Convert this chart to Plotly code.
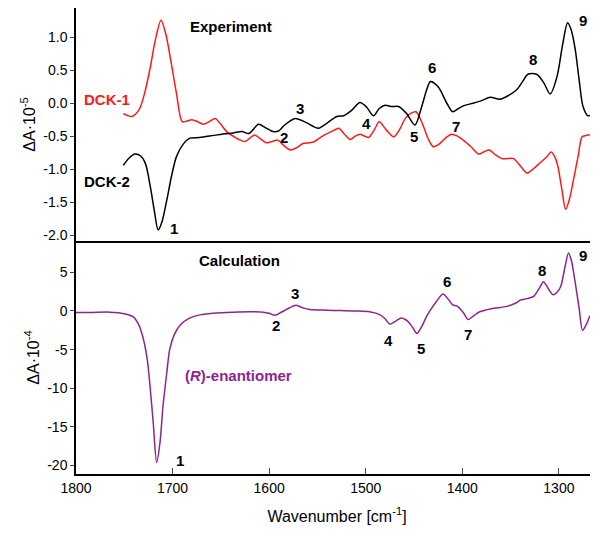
import plotly.graph_objects as go
from plotly.subplots import make_subplots

# ---- data ----
dck2_x = [1751,1745,1739,1733,1728,1723,1719,1715,1711,1706,1701,1696,1689,1682,1672,1654,1637,1628,1621,1611,1604,1596,1590,1584,1573,1562,1549,1540,1530,1523,1514,1506,1499,1492,1486,1480,1473,1466,1458,1449,1442,1437,1433,1425,1416,1410,1404,1399,1389,1380,1371,1361,1352,1344,1338,1332,1323,1316,1309,1302,1296,1291,1287,1283,1279,1275,1270,1265,1260]
dck2_y = [-0.94,-0.83,-0.77,-0.80,-0.92,-1.27,-1.62,-1.92,-1.80,-1.47,-1.10,-0.81,-0.62,-0.53,-0.52,-0.48,-0.45,-0.43,-0.46,-0.32,-0.37,-0.43,-0.42,-0.33,-0.23,-0.29,-0.38,-0.30,-0.20,-0.19,-0.10,0.01,-0.06,-0.19,-0.08,-0.03,-0.05,-0.05,-0.15,-0.33,-0.05,0.20,0.33,0.25,0.00,-0.13,-0.08,-0.04,0.00,0.04,0.09,0.06,0.12,0.20,0.32,0.44,0.44,0.32,0.14,0.40,0.90,1.22,1.10,0.81,0.35,-0.05,-0.19,-0.17,-0.13]

dck1_x = [1751,1746,1742,1738,1734,1729,1723,1718,1712,1707,1702,1696,1690,1685,1680,1674,1668,1662,1656,1650,1644,1635,1625,1620,1615,1609,1603,1597,1591,1585,1578,1571,1565,1558,1553,1546,1540,1534,1528,1522,1516,1511,1506,1501,1497,1491,1486,1479,1471,1465,1459,1453,1448,1444,1440,1435,1430,1425,1421,1416,1411,1405,1399,1391,1383,1378,1372,1366,1359,1353,1347,1340,1333,1326,1320,1313,1308,1304,1301,1297,1293,1289,1285,1280,1276,1272,1268,1264,1260]
dck1_y = [-0.16,-0.19,-0.20,-0.16,-0.08,0.15,0.55,0.95,1.26,1.05,0.66,0.15,-0.28,-0.27,-0.25,-0.28,-0.32,-0.28,-0.23,-0.32,-0.43,-0.52,-0.58,-0.53,-0.48,-0.54,-0.60,-0.58,-0.56,-0.64,-0.71,-0.67,-0.61,-0.60,-0.58,-0.51,-0.46,-0.42,-0.38,-0.47,-0.55,-0.50,-0.47,-0.50,-0.52,-0.40,-0.28,-0.40,-0.51,-0.40,-0.23,-0.15,-0.13,-0.22,-0.36,-0.55,-0.66,-0.63,-0.58,-0.51,-0.47,-0.50,-0.56,-0.66,-0.77,-0.74,-0.71,-0.78,-0.84,-0.84,-0.84,-0.95,-1.06,-0.99,-0.91,-0.82,-0.74,-0.82,-0.96,-1.30,-1.61,-1.45,-1.17,-0.80,-0.51,-0.49,-0.48,-0.47,-0.46]

calc_x = [1800,1785,1765,1750,1741,1735,1730,1726,1723,1720,1716.5,1713,1710,1706,1703,1698,1692,1682,1672,1655,1637,1620,1606,1600,1594,1588,1582,1576,1572,1565,1558,1540,1527,1510,1496,1485,1480,1475,1469,1463,1459,1456,1451,1447,1442,1437,1432,1427,1420,1415,1410,1405,1399,1394,1388,1382,1370,1354,1345,1340,1333,1326,1320,1316,1312,1306,1302,1298,1294,1290,1287,1283,1279,1275.5,1271,1268,1264,1260]
calc_y = [-0.2,-0.2,-0.15,-0.35,-0.74,-1.8,-3.75,-6.5,-10.2,-14.5,-19.6,-17.0,-12.4,-8.0,-5.0,-3.0,-1.8,-0.9,-0.5,-0.25,-0.15,-0.1,-0.15,-0.3,-0.55,-0.2,0.2,0.6,0.75,0.4,0.2,0.1,0.05,0.0,-0.1,-0.5,-1.0,-1.7,-1.3,-0.9,-1.1,-1.4,-2.2,-2.9,-2.0,-0.7,0.3,1.2,2.2,1.6,0.8,0.6,-0.2,-1.1,-0.6,-0.1,0.3,0.6,1.0,1.4,1.6,1.9,3.0,3.8,3.1,2.1,2.4,3.2,5.5,7.5,6.5,3.6,0.3,-2.5,-1.6,-0.7,-0.3,-0.1]

top_ticks = [1.0, 0.5, 0.0, -0.5, -1.0, -1.5, -2.0]
top_ticktext = ["1.0", "0.5", "0.0", "-0.5", "-1.0", "-1.5", "-2.0"]
bot_ticks = [5, 0, -5, -10, -15, -20]
bot_ticktext = ["5", "0", "-5", "-10", "-15", "-20"]
x_ticks = [1800, 1700, 1600, 1500, 1400, 1300]

exp_labels = ["1", "2", "3", "4", "5", "6", "7", "8", "9"]
exp_lx = [1699, 1585, 1568, 1499, 1450, 1431, 1407, 1327, 1275.5]
exp_ly = [-1.90, -0.52, -0.08, -0.30, -0.51, 0.54, -0.35, 0.67, 1.26]
calc_lx = [1692, 1593, 1573, 1476, 1443, 1416, 1394, 1317, 1275]
calc_ly = [-19.3, -1.9, 2.3, -3.8, -4.8, 3.8, -3.0, 5.3, 7.2]

RED = "#ff1a1a"
PURPLE = "#8b268f"
FONT = "Liberation Sans, Arial, sans-serif"

fig = make_subplots(rows=2, cols=1, shared_xaxes=True, vertical_spacing=0)
fig.add_trace(go.Scatter(x=dck1_x, y=dck1_y, mode="lines", line=dict(color=RED, width=1.5, shape="spline", smoothing=0.8), showlegend=False), row=1, col=1)
fig.add_trace(go.Scatter(x=dck2_x, y=dck2_y, mode="lines", line=dict(color="black", width=1.5, shape="spline", smoothing=0.8), showlegend=False), row=1, col=1)
fig.add_trace(go.Scatter(x=calc_x, y=calc_y, mode="lines", line=dict(color=PURPLE, width=1.5, shape="spline", smoothing=0.8), showlegend=False), row=2, col=1)

ann = []
for t, x, y in zip(exp_labels, exp_lx, exp_ly):
    ann.append(dict(x=x, y=y, xref="x", yref="y", text="<b>%s</b>" % t, showarrow=False, font=dict(size=15, color="black")))
for t, x, y in zip(exp_labels, calc_lx, calc_ly):
    ann.append(dict(x=x, y=y, xref="x2", yref="y2", text="<b>%s</b>" % t, showarrow=False, font=dict(size=15, color="black")))
ann.append(dict(x=1639, y=1.16, xref="x", yref="y", text="<b>Experiment</b>", showarrow=False, font=dict(size=15, color="black")))
ann.append(dict(x=1768, y=0.05, xref="x", yref="y", text="<b>DCK-1</b>", showarrow=False, font=dict(size=15, color=RED)))
ann.append(dict(x=1768, y=-1.19, xref="x", yref="y", text="<b>DCK-2</b>", showarrow=False, font=dict(size=15, color="black")))
ann.append(dict(x=1631, y=6.5, xref="x2", yref="y2", text="<b>Calculation</b>", showarrow=False, font=dict(size=15, color="black")))
ann.append(dict(x=1632, y=-8.4, xref="x2", yref="y2", text="<b>(<i>R</i>)-enantiomer</b>", showarrow=False, font=dict(size=15, color=PURPLE)))

fig.update_layout(
    width=590, height=517,
    margin=dict(l=68, r=0, t=0, b=51, autoexpand=False),
    paper_bgcolor="white", plot_bgcolor="white",
    font=dict(family=FONT, size=13, color="black"),
    annotations=ann,
)
fig.update_xaxes(range=[1800, 1259.5], showgrid=False, zeroline=False,
                 showline=True, linecolor="black", linewidth=1.5)
fig.update_xaxes(row=1, col=1, mirror=True, ticks="", showticklabels=False)
fig.update_xaxes(row=2, col=1, tickvals=x_ticks, ticks="inside", ticklen=6, tickwidth=1.2,
                 tickfont=dict(size=14),
                 title=dict(text="Wavenumber [cm<sup>-1</sup>]", font=dict(size=16), standoff=19))
fig.update_yaxes(showgrid=False, zeroline=False, showline=True, linecolor="black", linewidth=1.5,
                 ticks="outside", ticklen=4, tickwidth=1.2, tickfont=dict(size=14))
fig.update_yaxes(row=1, col=1, range=[-2.09, 1.445], tickvals=top_ticks, ticktext=top_ticktext,
                 title=dict(text="ΔA·10<sup>-5</sup>", font=dict(size=16), standoff=4))
fig.update_yaxes(row=2, col=1, range=[-21.1, 9.06], tickvals=bot_ticks, ticktext=bot_ticktext,
                 title=dict(text="ΔA·10<sup>-4</sup>", font=dict(size=16), standoff=4))

fig.write_html("out.html")
